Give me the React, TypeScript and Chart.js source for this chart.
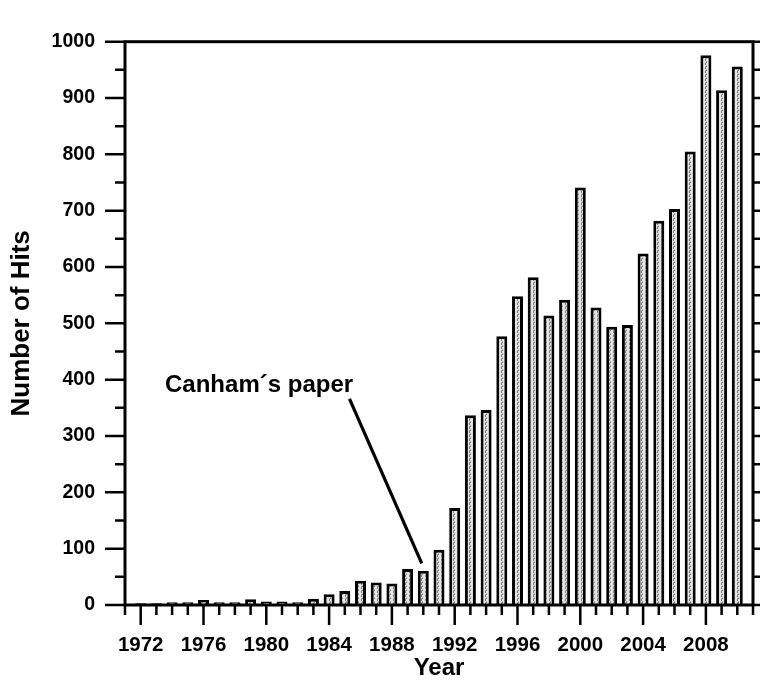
import React, { useEffect, useRef } from 'react';
import { Chart, registerables } from 'chart.js';

Chart.register(...registerables);

// ---- data ----
const YEARS = [
  1972, 1973, 1974, 1975, 1976, 1977, 1978, 1979, 1980, 1981, 1982, 1983,
  1984, 1985, 1986, 1987, 1988, 1989, 1990, 1991, 1992, 1993, 1994, 1995,
  1996, 1997, 1998, 1999, 2000, 2001, 2002, 2003, 2004, 2005, 2006, 2007,
  2008, 2009, 2010,
];
const HITS = [
  3, 3, 5, 5, 9, 5, 5, 10, 6, 6, 5, 11,
  19, 25, 43, 40, 38, 64, 61, 98, 172, 337, 346, 477,
  548, 582, 514, 542, 741, 528, 494, 497, 624, 682, 703, 805,
  976, 914, 956,
];
const X_TICK_LABELS = [1972, 1976, 1980, 1984, 1988, 1992, 1996, 2000, 2004, 2008];
const X_MIN = 1971;
const X_MAX = 2011;
const Y_MIN = 0;
const Y_MAX = 1000;
const Y_STEP = 100;
const Y_MINOR_STEP = 50;
const X_TITLE = 'Year';
const Y_TITLE = 'Number of Hits';
const NOTE_TEXT = 'Canham\u00B4s paper';
const NOTE_TEXT_AT = [1973.55, 379]; // [year, hits] of text baseline start
const NOTE_LINE = [
  [1985.3, 366],
  [1989.9, 74],
]; // pointer from text to the 1990 bar

const FONT = '"Liberation Sans", Arial, sans-serif';

function makePattern(): CanvasPattern | string {
  const c = document.createElement('canvas');
  c.width = 4;
  c.height = 4;
  const g = c.getContext('2d');
  if (!g) return '#cccccc';
  g.fillStyle = '#e4e4e4';
  g.fillRect(0, 0, 4, 4);
  g.fillStyle = '#7a7a7a';
  g.fillRect(1, 0, 1, 1);
  g.fillRect(2, 2, 1, 1);
  g.fillRect(1, 3, 1, 1);
  g.fillStyle = '#b0b0b0';
  g.fillRect(2, 1, 1, 1);
  g.fillRect(1, 2, 1, 1);
  const p = g.createPattern(c, 'repeat');
  return p || '#cccccc';
}

const framePlugin = {
  id: 'frameAndTicks',
  afterDraw(chart: any) {
    const { ctx, chartArea } = chart;
    const xs = chart.scales.x;
    const ys = chart.scales.y;
    const { left, right, top, bottom } = chartArea;
    ctx.save();
    ctx.strokeStyle = '#000';
    ctx.lineCap = 'butt';

    // ticks on left axis (outward)
    ctx.lineWidth = 2.5;
    ctx.beginPath();
    for (let v = Y_MIN; v <= Y_MAX; v += Y_MINOR_STEP) {
      const py = ys.getPixelForValue(v);
      const len = v % Y_STEP === 0 ? 20 : 10;
      ctx.moveTo(left - len, py);
      ctx.lineTo(left, py);
      // right axis ticks (outward, short)
      ctx.moveTo(right, py);
      ctx.lineTo(right + 7, py);
    }
    // bottom axis ticks (outward)
    for (let yr = X_MIN; yr <= X_MAX; yr += 1) {
      const px = xs.getPixelForValue(yr);
      const len = X_TICK_LABELS.includes(yr) ? 20 : 10;
      ctx.moveTo(px, bottom);
      ctx.lineTo(px, bottom + len);
    }
    ctx.stroke();

    // frame
    ctx.lineWidth = 3;
    ctx.strokeRect(left, top, right - left, bottom - top);

    // annotation
    ctx.fillStyle = '#000';
    ctx.font = 'bold 24px ' + FONT;
    ctx.textAlign = 'left';
    ctx.textBaseline = 'alphabetic';
    ctx.fillText(
      NOTE_TEXT,
      xs.getPixelForValue(NOTE_TEXT_AT[0]),
      ys.getPixelForValue(NOTE_TEXT_AT[1])
    );
    ctx.lineWidth = 3.2;
    ctx.beginPath();
    ctx.moveTo(xs.getPixelForValue(NOTE_LINE[0][0]), ys.getPixelForValue(NOTE_LINE[0][1]));
    ctx.lineTo(xs.getPixelForValue(NOTE_LINE[1][0]), ys.getPixelForValue(NOTE_LINE[1][1]));
    ctx.stroke();
    ctx.restore();
  },
};

export default function App() {
  const ref = useRef<HTMLCanvasElement | null>(null);

  useEffect(() => {
    document.body.style.margin = '0';
    const canvas = ref.current;
    if (!canvas) return;
    const pattern = makePattern();
    const chart = new Chart(canvas, {
      type: 'bar',
      data: {
        datasets: [
          {
            label: 'Hits',
            data: YEARS.map((yr, i) => ({ x: yr, y: HITS[i] })),
            backgroundColor: pattern as any,
            borderColor: '#000',
            borderWidth: 3,
            borderSkipped: 'start',
            categoryPercentage: 1,
            barPercentage: 0.7,
          },
        ],
      },
      options: {
        animation: false,
        responsive: false,
        devicePixelRatio: 1,
        layout: { padding: { top: 24, right: 11, left: 0, bottom: 0 } },
        plugins: {
          legend: { display: false },
          tooltip: { enabled: false },
        },
        scales: {
          x: {
            type: 'linear',
            offset: false,
            min: X_MIN,
            max: X_MAX,
            grid: { display: false, drawTicks: false, offset: false },
            border: { display: false },
            afterBuildTicks: (scale: any) => {
              scale.ticks = X_TICK_LABELS.map((v) => ({ value: v }));
            },
            afterFit: (scale: any) => {
              scale.height = 78;
            },
            ticks: {
              autoSkip: false,
              maxRotation: 0,
              padding: 28,
              color: '#000',
              font: { family: FONT, size: 20.5, weight: 'bold' },
              callback: (v: any) => String(v),
            },
            title: {
              display: true,
              text: X_TITLE,
              color: '#000',
              font: { family: FONT, size: 24, weight: 'bold' },
              padding: { top: 0, bottom: 0 },
            },
          },
          y: {
            type: 'linear',
            min: Y_MIN,
            max: Y_MAX,
            grid: { display: false, drawTicks: false },
            border: { display: false },
            afterFit: (scale: any) => {
              scale.width = 125;
            },
            ticks: {
              stepSize: Y_STEP,
              padding: 30,
              color: '#000',
              font: { family: FONT, size: 19.5, weight: 'bold' },
              callback: (v: any) => String(v),
            },
            title: {
              display: true,
              text: Y_TITLE,
              color: '#000',
              font: { family: FONT, size: 26, weight: 'bold' },
              padding: { top: 6, bottom: 0 },
            },
          },
        },
      },
      plugins: [framePlugin],
    } as any);
    return () => chart.destroy();
  }, []);

  return (
    <div style={{ position: 'fixed', left: 0, top: 0, width: 764, height: 683, background: '#fff' }}>
      <canvas ref={ref} width={764} height={683} style={{ display: 'block' }} />
    </div>
  );
}
